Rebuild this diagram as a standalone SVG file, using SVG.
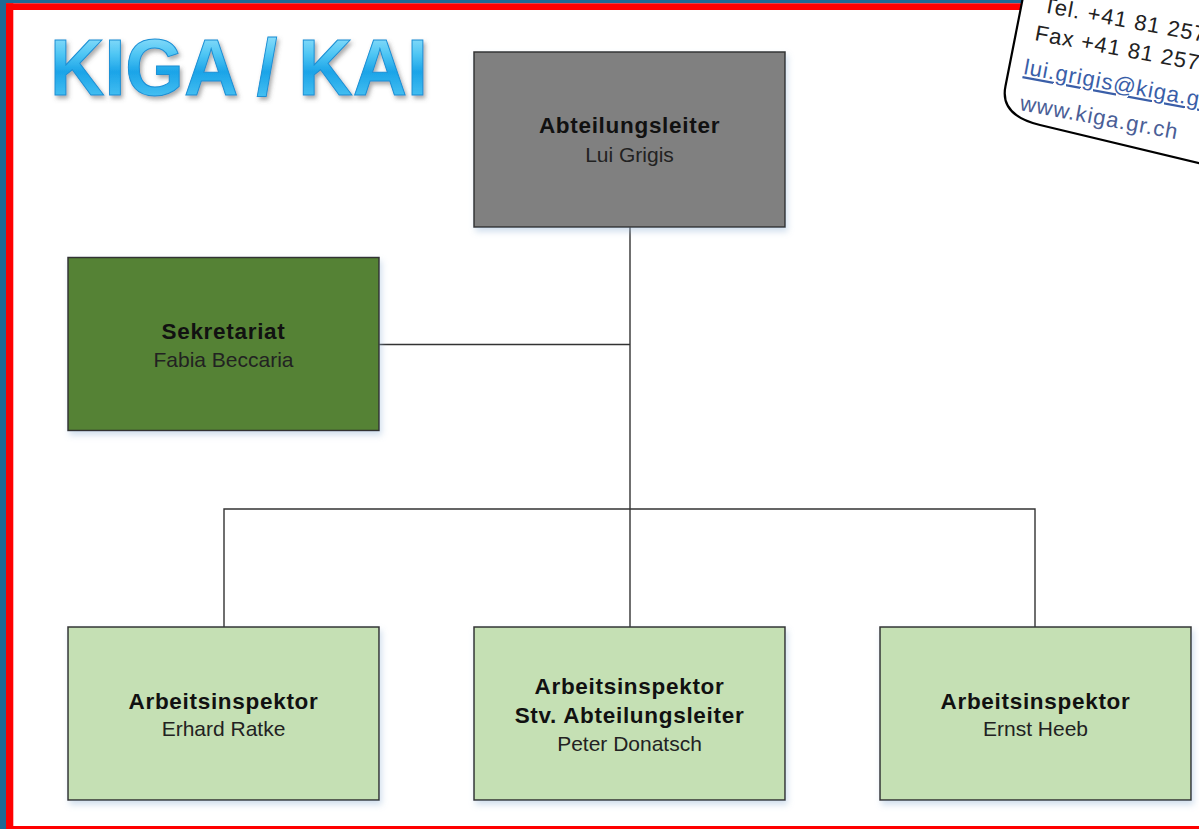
<svg xmlns="http://www.w3.org/2000/svg" width="1199" height="829" viewBox="0 0 1199 829">
<defs>
<style>
.box{stroke:#333;stroke-width:1.5}
.t{font-family:"Liberation Sans",Arial,sans-serif;font-weight:bold;font-size:22.5px;letter-spacing:0.7px;fill:#111;text-anchor:middle}
.n{font-family:"Liberation Sans",Arial,sans-serif;font-size:21px;fill:#222;text-anchor:middle}
.conn{stroke:#333;stroke-width:1.4;fill:none}
.card{font-family:"Liberation Sans",Arial,sans-serif;font-size:22px;letter-spacing:1px}
</style>
<filter id="sh" x="-10%" y="-10%" width="120%" height="130%">
<feDropShadow dx="2" dy="4" stdDeviation="3" flood-color="#9ab8d8" flood-opacity="0.45"/>
</filter>
<filter id="tsh" x="-10%" y="-20%" width="120%" height="150%">
<feDropShadow dx="2" dy="3" stdDeviation="2" flood-color="#555" flood-opacity="0.5"/>
</filter>
<linearGradient id="tg" x1="0" y1="0" x2="0" y2="1">
<stop offset="0" stop-color="#b5ecfd"/>
<stop offset="0.35" stop-color="#4fc6f4"/>
<stop offset="0.55" stop-color="#1ba4e8"/>
<stop offset="1" stop-color="#5fd0f7"/>
</linearGradient>
</defs>
<rect x="0" y="0" width="1199" height="829" fill="#ffffff"/>
<g id="frame">
<rect x="0" y="0" width="6" height="829" fill="#1f6a94"/>
<rect x="0" y="0" width="1199" height="3.3" fill="#1f6a94"/>
<rect x="6" y="3.3" width="7.3" height="825.7" fill="#ff0000"/>
<rect x="6" y="3.3" width="1193" height="6.7" fill="#ff0000"/>
<rect x="6" y="826" width="1193" height="3" fill="#ff0000"/>
</g>
<g id="title">
<text x="50" y="95" font-family="Liberation Sans, Arial, sans-serif" font-weight="bold" font-size="79" textLength="378" lengthAdjust="spacingAndGlyphs" fill="url(#tg)" stroke="#1a8fd4" stroke-width="1" filter="url(#tsh)">KIGA / KAI</text>
</g>
<g id="card">
<path d="M1023,-3 L1005.5,86 Q999.4,115.3 1040,125 L1203,164 L1203,-3 Z" fill="#ffffff" stroke="#000" stroke-width="2.2"/>
<text class="card" x="1042" y="12" fill="#222" transform="rotate(10.5 1042 12)">Tel. +41 81 257</text>
<text class="card" x="1034" y="40" fill="#222" transform="rotate(10.5 1034 40)">Fax +41 81 257</text>
<text class="card" x="1023" y="74" fill="#3a5ea8" text-decoration="underline" transform="rotate(10.5 1023 74)">lui.grigis@kiga.gr.ch</text>
<text class="card" x="1019" y="110" fill="#4a5e96" transform="rotate(10.5 1019 110)">www.kiga.gr.ch</text>
</g>
<g id="connectors">
<path class="conn" d="M630,227 V627"/>
<path class="conn" d="M379,344.5 H630"/>
<path class="conn" d="M224,627 V509 H1035 V627"/>
</g>
<g id="n-abteilungsleiter">
<rect class="box" x="474" y="52" width="311" height="175" fill="#808080" filter="url(#sh)"/>
<text class="t" x="629.5" y="133">Abteilungsleiter</text>
<text class="n" x="629.5" y="161.5">Lui Grigis</text>
</g>
<g id="n-sekretariat">
<rect class="box" x="68" y="257.5" width="311" height="173" fill="#548235" filter="url(#sh)"/>
<text class="t" x="223.5" y="338.5">Sekretariat</text>
<text class="n" x="223.5" y="366.5">Fabia Beccaria</text>
</g>
<g id="n-ratke">
<rect class="box" x="68" y="627" width="311" height="173" fill="#c5e0b4" filter="url(#sh)"/>
<text class="t" x="223.5" y="708.5">Arbeitsinspektor</text>
<text class="n" x="223.5" y="736">Erhard Ratke</text>
</g>
<g id="n-donatsch">
<rect class="box" x="474" y="627" width="311" height="173" fill="#c5e0b4" filter="url(#sh)"/>
<text class="t" x="629.5" y="693.5">Arbeitsinspektor</text>
<text class="t" x="629.5" y="722.5">Stv. Abteilungsleiter</text>
<text class="n" x="629.5" y="750.5">Peter Donatsch</text>
</g>
<g id="n-heeb">
<rect class="box" x="880" y="627" width="311" height="173" fill="#c5e0b4" filter="url(#sh)"/>
<text class="t" x="1035.5" y="708.5">Arbeitsinspektor</text>
<text class="n" x="1035.5" y="736">Ernst Heeb</text>
</g>
</svg>
